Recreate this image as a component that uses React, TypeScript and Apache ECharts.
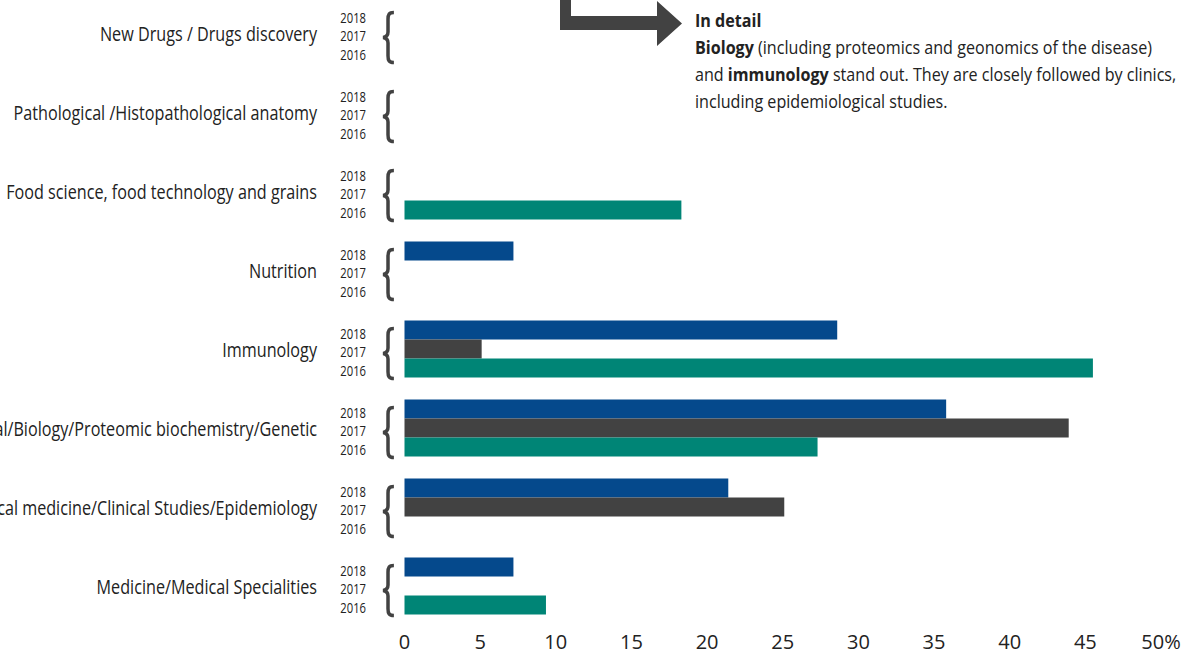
import React, { useEffect, useRef } from 'react';
import * as echarts from 'echarts';

const categories = [
  'New Drugs / Drugs discovery',
  'Pathological /Histopathological anatomy',
  'Food science, food technology and grains',
  'Nutrition',
  'Immunology',
  'Biochemical/Biology/Proteomic biochemistry/Genetic',
  'Clinical medicine/Clinical Studies/Epidemiology',
  'Medicine/Medical Specialities',
];
const years = ['2018', '2017', '2016'];
const values2018 = [null, null, null, 7.2, 28.6, 35.8, 21.4, 7.2];
const values2017 = [null, null, null, null, 5.1, 43.9, 25.1, null];
const values2016 = [null, null, 18.3, null, 45.5, 27.3, null, 9.35];
const xMin = 0;
const xMax = 50;
const xInterval = 5;

const FONT = "'Open Sans', 'Noto Sans', sans-serif";
const TEXT = '#222222';
const COLORS = { y2018: '#05498c', y2017: '#424242', y2016: '#008576' };
const CAT_SCALE = 0.83;
const YEAR_SCALE = 0.75;
const NOTE_SCALE = 0.895;

const BRACE = 'M12,1 C7,1 6,3 6,8 L6,21 C6,25 4,26 1,26.5 C4,27 6,28 6,32 L6,45 C6,50 7,52 12,52';

export default function App() {
  const ref = useRef<HTMLDivElement>(null);
  useEffect(() => {
    if (!ref.current) return;
    const chart = echarts.init(ref.current, null, { renderer: 'svg' });
    const yearOffsets = [-16, 2.5, 21];
    chart.setOption({
      animation: false,
      backgroundColor: '#ffffff',
      textStyle: { fontFamily: FONT },
      grid: { left: 404.5, right: 34, top: -6.5, bottom: 29.5, containLabel: false, outerBoundsMode: 'none' },
      xAxis: {
        type: 'value',
        min: xMin,
        max: xMax,
        interval: xInterval,
        axisLine: { show: false },
        axisTick: { show: false },
        splitLine: { show: false },
        axisLabel: {
          show: true,
          showMinLabel: true,
          showMaxLabel: true,
          fontSize: 20,
          color: TEXT,
          fontFamily: FONT,
          margin: 6,
          formatter: (v: number) => (v === xMax ? `${v}%` : String(v)),
        },
      },
      yAxis: {
        type: 'category',
        data: categories,
        inverse: true,
        axisLine: { show: false },
        axisTick: { show: false },
        splitLine: { show: false },
        axisLabel: { show: false },
      },
      series: [
        { name: years[0], type: 'bar', data: values2018, barWidth: 19, barGap: '0%', itemStyle: { color: COLORS.y2018 }, silent: true },
        { name: years[1], type: 'bar', data: values2017, barWidth: 19, barGap: '0%', itemStyle: { color: COLORS.y2017 }, silent: true },
        { name: years[2], type: 'bar', data: values2016, barWidth: 19, barGap: '0%', itemStyle: { color: COLORS.y2016 }, silent: true },
        {
          type: 'custom',
          silent: true,
          clip: false,
          data: categories.map((_, i) => [0, i]),
          encode: { x: 0, y: 1 },
          renderItem: (params: any, api: any) => {
            const idx = api.value(1);
            const c = api.coord([0, idx]);
            const x0 = c[0];
            const yc = c[1];
            const children: any[] = [
              {
                type: 'text',
                x: x0 - 87.5,
                y: yc,
                scaleX: CAT_SCALE,
                style: {
                  text: categories[idx],
                  fontSize: 19.5,
                  fontFamily: FONT,
                  fill: TEXT,
                  align: 'right',
                  verticalAlign: 'middle',
                },
              },
            ];
            years.forEach((yr, k) => {
              children.push({
                type: 'text',
                x: x0 - 38.5,
                y: yc + yearOffsets[k],
                scaleX: YEAR_SCALE,
                style: {
                  text: yr,
                  fontSize: 15,
                  fontFamily: FONT,
                  fill: TEXT,
                  align: 'right',
                  verticalAlign: 'middle',
                },
              });
            });
            children.push({
              type: 'path',
              shape: { pathData: BRACE, x: x0 - 21.5, y: yc - 20.5, width: 11, height: 50 },
              style: { fill: 'none', stroke: '#424242', lineWidth: 3.5 },
            });
            return { type: 'group', children };
          },
        },
      ],
      graphic: [
        {
          type: 'polygon',
          shape: {
            points: [[560, 0], [571, 0], [571, 16], [657, 16], [657, 1], [682, 23.5], [657, 46], [657, 30], [560, 30]],
          },
          style: { fill: '#424242' },
        },
        {
          type: 'text',
          x: 695,
          y: 6.5,
          scaleX: NOTE_SCALE,
          style: {
            text:
              '{b|In detail}\n{b|Biology}{n| (including proteomics and geonomics of the disease)}\n{n|and }{b|immunology}{n| stand out. They are closely followed by clinics,}\n{n|including epidemiological studies.}',
            fontFamily: FONT,
            fontSize: 18,
            lineHeight: 27,
            fill: TEXT,
            verticalAlign: 'top',
            rich: {
              b: { fontFamily: FONT, fontSize: 18, fontWeight: 'bold', lineHeight: 27, fill: TEXT },
              n: { fontFamily: FONT, fontSize: 18, lineHeight: 27, fill: TEXT },
            },
          },
        },
      ],
    });
    return () => chart.dispose();
  }, []);
  return <div ref={ref} style={{ position: 'fixed', left: 0, top: 0, width: 1195, height: 655 }} />;
}
